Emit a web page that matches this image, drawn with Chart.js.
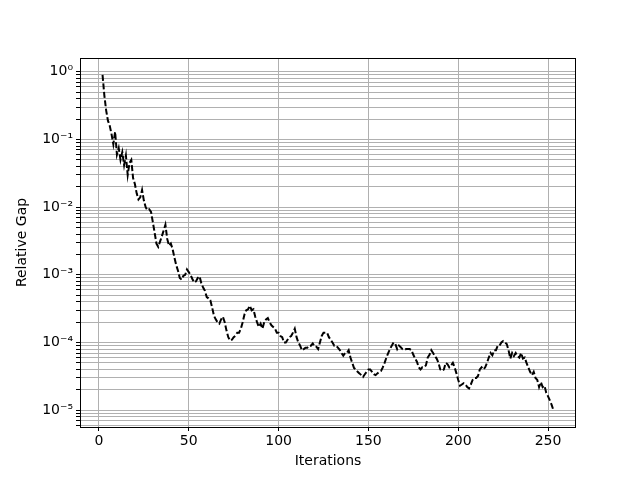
<!DOCTYPE html>
<html>
<head>
<meta charset="utf-8">
<script src="https://cdn.jsdelivr.net/npm/chart.js@4.4.1/dist/chart.umd.min.js"></script>
<style>
  body { margin: 0; background: #fff; }
  canvas { display: block; }
</style>
</head>
<body>
<canvas id="gapChart" width="640" height="480"></canvas>
<script>
// relative gap per iteration (first iteration is 2)
const firstIteration = 2;
const relativeGap = [
  0.9, 0.45, 0.27, 0.19, 0.16, 0.12, 0.085, 0.13, 0.06, 0.075,
  0.05, 0.065, 0.042, 0.058, 0.03, 0.045, 0.05, 0.027, 0.022, 0.016,
  0.013, 0.014, 0.018, 0.0125, 0.01, 0.009, 0.0093, 0.0085, 0.006, 0.0042,
  0.0029, 0.0026, 0.0031, 0.0037, 0.0045, 0.0055, 0.0034, 0.0027, 0.0029, 0.0024,
  0.0018, 0.0014, 0.00115, 0.0009, 0.00085, 0.00097, 0.001, 0.0012, 0.0011, 0.001,
  8.7e-4, 7.7e-4, 8e-4, 9e-4, 9.5e-4, 7.5e-4, 6.5e-4, 5.8e-4, 4.7e-4, 4.5e-4,
  4.2e-4, 3.3e-4, 2.5e-4, 2.2e-4, 2e-4, 1.9e-4, 2.2e-4, 2.4e-4, 2e-4, 1.5e-4,
  1.2e-4, 1.07e-4, 1.1e-4, 1.2e-4, 1.26e-4, 1.4e-4, 1.4e-4, 1.6e-4, 2e-4, 2.6e-4,
  3e-4, 3.1e-4, 3.5e-4, 3e-4, 3.1e-4, 2.4e-4, 2e-4, 1.7e-4, 1.9e-4, 1.6e-4,
  2e-4, 2.2e-4, 2.3e-4, 2e-4, 1.8e-4, 1.7e-4, 1.6e-4, 1.4e-4, 1.4e-4, 1.25e-4,
  1.2e-4, 1e-4, 1e-4, 1.1e-4, 1.2e-4, 1.25e-4, 1.4e-4, 1.6e-4, 1.2e-4, 1e-4,
  9e-5, 7.7e-5, 8e-5, 8.4e-5, 8.4e-5, 9e-5, 9e-5, 9.7e-5, 8.7e-5, 8.7e-5,
  8e-5, 1e-4, 1.25e-4, 1.4e-4, 1.4e-4, 1.4e-4, 1.2e-4, 1.1e-4, 1e-4, 9e-5,
  9e-5, 8.4e-5, 7.8e-5, 7e-5, 6.4e-5, 7e-5, 7e-5, 7.7e-5, 6e-5, 5e-5,
  4.2e-5, 4e-5, 3.7e-5, 3.5e-5, 3.3e-5, 3.1e-5, 3.4e-5, 3.7e-5, 4e-5, 4e-5,
  3.7e-5, 3.4e-5, 3.3e-5, 3.5e-5, 3.7e-5, 3.8e-5, 4.3e-5, 5e-5, 6e-5, 7e-5,
  8e-5, 9e-5, 1e-4, 9.5e-5, 8e-5, 9e-5, 8.5e-5, 8e-5, 7.8e-5, 8e-5,
  8e-5, 8e-5, 7.7e-5, 6.6e-5, 5.8e-5, 5.2e-5, 4.3e-5, 4e-5, 4.3e-5, 4.3e-5,
  4.6e-5, 6e-5, 6.6e-5, 7.7e-5, 7e-5, 6.3e-5, 5.8e-5, 5e-5, 4e-5, 3.8e-5,
  4e-5, 5e-5, 4.8e-5, 4.3e-5, 4.6e-5, 5e-5, 4.3e-5, 3.5e-5, 2.8e-5, 2.3e-5,
  2.4e-5, 2.5e-5, 2.4e-5, 2.2e-5, 2.1e-5, 2.4e-5, 2.8e-5, 3e-5, 3e-5, 3.2e-5,
  4e-5, 4.3e-5, 4e-5, 4.3e-5, 5e-5, 6e-5, 7e-5, 6.5e-5, 7.7e-5, 7.7e-5,
  9e-5, 9e-5, 1e-4, 1.05e-4, 1e-4, 9.5e-5, 7.7e-5, 5.8e-5, 7e-5, 6.3e-5,
  7e-5, 6.3e-5, 6e-5, 7e-5, 5.8e-5, 6e-5, 5e-5, 4.3e-5, 3.7e-5, 3.3e-5,
  3.7e-5, 3e-5, 2.8e-5, 2.2e-5, 2.6e-5, 2.2e-5, 2.3e-5, 1.8e-5, 1.6e-5, 1.4e-5,
  1.2e-5, 1e-5
];

// axis ticks
const iterationTicks = [0, 50, 100, 150, 200, 250];
const gapDecades = [-6, -5, -4, -3, -2, -1, 0];
const gapDecadeLabels = ['10⁻⁶', '10⁻⁵', '10⁻⁴', '10⁻³', '10⁻²', '10⁻¹', '10⁰'];
const xMin = -10.55, xMax = 265.55;
const yMin = 5.65e-6, yMax = 1.6;

const points = relativeGap.map((v, i) => ({ x: firstIteration + i, y: v }));

// every 1..9 x 10^k inside the range gets a grid line, only 10^k gets a label
const yTickValues = [];
gapDecades.forEach(e => {
  for (let m = 1; m <= 9; m++) {
    const v = parseFloat((m * Math.pow(10, e)).toPrecision(6));
    if (v >= yMin && v <= yMax) yTickValues.push(v);
  }
});

function decadeLabel(value) {
  const e = Math.round(Math.log10(value));
  if (Math.abs(value / Math.pow(10, e) - 1) > 1e-6) return '';
  const idx = gapDecades.indexOf(e);
  return idx >= 0 ? gapDecadeLabels[idx] : '';
}

const frame = {
  id: 'frame',
  afterDraw(chart) {
    const { ctx, chartArea: a } = chart;
    ctx.save();
    ctx.strokeStyle = '#000';
    ctx.lineWidth = 1;
    ctx.strokeRect(Math.round(a.left) + 0.5, Math.round(a.top) + 0.5,
      Math.round(a.right - a.left) - 1, Math.round(a.bottom - a.top));
    ctx.restore();
  }
};

const font = { family: 'DejaVu Sans', size: 14 };

new Chart(document.getElementById('gapChart'), {
  type: 'line',
  data: {
    datasets: [{
      data: points,
      borderColor: '#000',
      borderWidth: 2,
      borderDash: [6, 2.5],
      pointRadius: 0,
      tension: 0,
      fill: false
    }]
  },
  options: {
    responsive: false,
    animation: false,
    devicePixelRatio: 1,
    layout: { padding: { left: 0, top: 58, right: 64, bottom: 0 } },
    plugins: { legend: { display: false }, tooltip: { enabled: false } },
    scales: {
      x: {
        type: 'linear',
        min: xMin,
        max: xMax,
        afterBuildTicks: s => { s.ticks = iterationTicks.map(v => ({ value: v })); },
        afterFit: s => { s.height = 53; },
        grid: { color: '#b0b0b0', lineWidth: 1, tickColor: '#000', tickLength: 4 },
        border: { display: false },
        ticks: { color: '#000', font, padding: 2, maxRotation: 0 },
        title: { display: true, text: 'Iterations', color: '#000', font, padding: { top: 2, bottom: 10 } }
      },
      y: {
        type: 'logarithmic',
        min: yMin,
        max: yMax,
        afterBuildTicks: s => { s.ticks = yTickValues.map(v => ({ value: v })); },
        afterFit: s => { s.width = 80; },
        grid: { color: '#b0b0b0', lineWidth: 1, tickColor: '#000', tickLength: 4 },
        border: { display: false },
        ticks: { color: '#000', font, padding: 3, autoSkip: false, callback: v => decadeLabel(v) },
        title: { display: true, text: 'Relative Gap', color: '#000', font, padding: { top: 14, bottom: 0 } }
      }
    }
  },
  plugins: [frame]
});
</script>
</body>
</html>
